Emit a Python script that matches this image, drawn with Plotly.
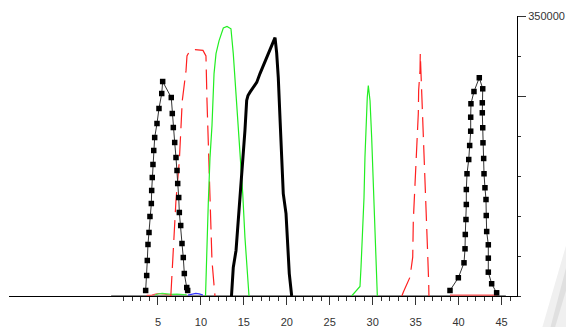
import plotly.graph_objects as go

# ---- data (x in axis units, y in counts) ----
sq1_x = [3.57, 3.69, 3.76, 3.84, 3.96, 4.07, 4.23, 4.27, 4.34, 4.42, 4.51, 4.62, 4.89, 5.12, 5.44, 5.55,
         6.55, 6.67, 6.79, 6.95, 7.10, 7.22, 7.30, 7.42, 7.49, 7.65, 7.80, 7.95, 8.07, 8.35, 8.46]
sq1_y = [6900, 25600, 44400, 64400, 79400, 99400, 115600, 131900, 148100, 164400, 181900, 198100, 215600,
         234400, 253100, 268100, 248100, 228100, 210600, 191900, 173100, 156900, 140600, 123100, 104400,
         88100, 65600, 48100, 28100, 10600, 6900]
sq2_x = [39.00, 39.97, 40.63, 40.75, 40.78, 40.86, 40.90, 40.90, 40.98, 41.18, 41.29, 41.41, 41.41, 41.44,
         41.79, 42.41, 42.81, 42.76, 42.76, 42.81, 42.84, 42.92, 42.96, 43.07, 43.19, 43.22, 43.27, 43.46,
         43.46, 43.46, 43.85, 44.43]
sq2_y = [6900, 22800, 41500, 59000, 76900, 95600, 114400, 133100, 152800, 170600, 188100, 206000, 223500,
         240300, 255600, 272800, 259000, 241500, 229000, 210300, 191500, 171900, 152800, 135300, 120600,
         100600, 80600, 64000, 47300, 29800, 15300, 4000]

red_x = [6.50, 6.64, 6.70, 7.10, 7.49, 7.83, 8.27, 8.38, 8.73, 9.31, 10.24, 10.59, 10.71, 10.94, 11.12, 11.29, 11.58, 11.64,
         None,
         33.40, 33.56, 34.34, 34.66, 34.73, 34.92, 35.04, 35.12, 35.31, 35.35, 35.51, 35.54, 35.82, 35.89, 36.09,
         36.20, 36.29, 36.40, 36.52, 36.55]
red_y = [0, 25600, 40000, 120000, 169000, 244000, 282000, 300000, 307000, 308000, 307000, 300000, 244000, 157000,
         82000, 44000, 7000, 0,
         None,
         0, 4750, 23500, 48500, 94400, 136000, 178000, 194000, 228000, 257000, 282000, 303000, 228000, 194000,
         157000, 116000, 82000, 53000, 16000, 0]

green_x = [10.54, 10.67, 10.86, 11.06, 11.29, 11.53, 11.76, 12.11, 12.61, 13.04, 13.50, 13.77, 14.17, 14.55,
           14.87, 15.13, 15.52, 15.60,
           None,
           27.55, 28.52, 28.64, 28.79, 28.99, 29.10, 29.22, 29.37, 29.49, 29.69, 29.88, 30.07, 30.27, 30.47, 30.54]
green_y = [0, 53000, 116000, 173000, 213000, 278000, 303000, 319000, 335000, 337000, 334000, 303000, 241000,
           178000, 128000, 73000, 11000, 0,
           None,
           0, 11900, 36000, 73500, 123500, 173500, 219000, 248500, 263000, 244000, 198500, 136000, 73500,
           23500, 0]

thick_x = [13.56, 13.66, 13.77, 14.09, 14.35, 14.61, 14.87, 15.13, 15.33, 15.48, 15.72, 16.10, 16.50, 16.88,
           17.26, 17.85, 18.24, 18.63, 18.82, 19.01, 19.21, 19.41, 19.59, 19.91, 20.06, 20.29, 20.57]
thick_y = [0, 16900, 35600, 56900, 94400, 125600, 166900, 206900, 244400, 250600, 254800, 261000, 267000,
           278000, 288000, 304000, 314000, 323000, 304000, 273000, 222000, 172000, 128000, 103000, 69000,
           28000, 0]

base_x = [-0.45, 45.5]
base_y = [0, 0]

lowred_x = [3.69, 4.30, 4.85, 5.30, 5.82, 6.20, 6.60, None, 39.0, 44.5]
lowred_y = [700, 1200, 2800, 3000, 2200, 1200, 700, None, 1000, 1000]
lowgreen_x = [4.66, 5.10, 5.50, 6.00, 6.40, 6.60, 7.20, 7.80, 8.35]
lowgreen_y = [1200, 2800, 3200, 2600, 1500, 2000, 2400, 2400, 1500]
lowblue_x = [8.50, 9.00, 9.40, 9.80, 10.24]
lowblue_y = [1200, 2600, 3200, 2600, 1200]

xtick_vals = [5, 10, 15, 20, 25, 30, 35, 40, 45]
xminor_vals = list(range(1, 47))
ytick_vals = [250000, 350000]
ytick_text = ["", "350000"]
yminor_vals = [0, 50000, 100000, 150000, 200000, 300000]

fig = go.Figure()
fig.add_trace(go.Scatter(x=base_x, y=base_y, mode="lines", line=dict(color="#8a8a8a", width=2.2)))
fig.add_trace(go.Scatter(x=lowred_x, y=lowred_y, mode="lines", line=dict(color="#ff5050", width=1.2)))
fig.add_trace(go.Scatter(x=lowgreen_x, y=lowgreen_y, mode="lines", line=dict(color="#44ee44", width=1.2)))
fig.add_trace(go.Scatter(x=lowblue_x, y=lowblue_y, mode="lines", line=dict(color="#3333ff", width=1.2)))
fig.add_trace(go.Scatter(x=red_x, y=red_y, mode="lines",
                         line=dict(color="#ff2020", width=1.2, dash="20px,8px")))
fig.add_trace(go.Scatter(x=green_x, y=green_y, mode="lines", line=dict(color="#22ee22", width=1.2)))
fig.add_trace(go.Scatter(x=thick_x, y=thick_y, mode="lines", line=dict(color="#000000", width=3)))
for sx, sy in ((sq1_x, sq1_y), (sq2_x, sq2_y)):
    fig.add_trace(go.Scatter(x=sx, y=sy, mode="lines+markers",
                             line=dict(color="#333333", width=1),
                             marker=dict(symbol="square", size=5.5, color="#000000")))

font = dict(family="Liberation Sans, Arial, sans-serif", size=11, color="#333333")
fig.update_layout(
    width=566, height=327,
    margin=dict(l=9, r=49, t=16, b=31, autoexpand=False),
    paper_bgcolor="white", plot_bgcolor="white",
    showlegend=False,
    font=font,
    xaxis=dict(range=[-12.34, 46.8], showgrid=False, zeroline=False, automargin=False,
               showline=True, linecolor="#000000", linewidth=1,
               ticks="outside", tickvals=xtick_vals, ticklen=8, tickcolor="#333333", tickwidth=1,
               ticklabelstandoff=8, tickfont=font,
               minor=dict(tickvals=xminor_vals, ticks="outside", ticklen=4, tickcolor="#333333",
                          tickwidth=1, showgrid=False)),
    yaxis=dict(range=[0, 350000], side="right", showgrid=False, zeroline=False, automargin=False,
               showline=True, linecolor="#000000", linewidth=1,
               ticks="outside", tickvals=ytick_vals, ticktext=ytick_text, ticklen=8,
               tickcolor="#333333", tickwidth=1, tickfont=font,
               minor=dict(tickvals=yminor_vals, ticks="outside", ticklen=3, tickcolor="#333333",
                          tickwidth=1, showgrid=False)),
    shapes=[
        dict(type="path", xref="paper", yref="paper", layer="below",
             path="M 1.0965 0.18 L 1.0965 -0.111 L 1.05 -0.111 Z",
             fillcolor="#f0f0f0", line=dict(width=0)),
        dict(type="path", xref="paper", yref="paper", layer="below",
             path="M 1.0965 0.10 L 1.0965 0.02 L 1.075 -0.111 L 1.066 -0.111 Z",
             fillcolor="#e0e0e0", line=dict(width=0)),
    ],
)

fig.write_html("out.html", config={"displayModeBar": False},
               post_script="document.body.style.margin='0px';")
